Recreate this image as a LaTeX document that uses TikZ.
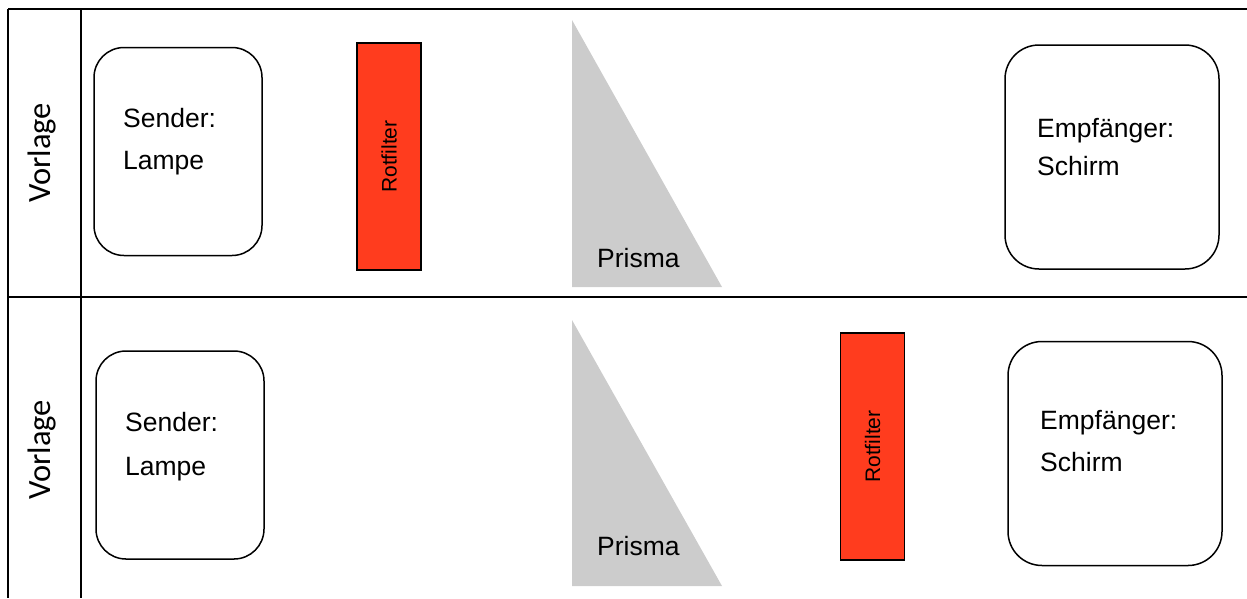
\documentclass[tikz,border=0pt]{standalone}
\usepackage{fontspec}
\setmainfont{Liberation Sans}
\newfontfamily\vorlagefont{Carlito}
\definecolor{rotfill}{RGB}{255,60,30}
\definecolor{prismgray}{RGB}{204,204,204}

\begin{document}
\begin{tikzpicture}[x=1pt,y=-1pt,
  box/.style={draw,line width=1.5pt,rounded corners=30pt,minimum width=168pt,minimum height=208pt,inner sep=0pt},
  bigbox/.style={box,rounded corners=34pt,minimum width=214pt,minimum height=224pt},
  filter/.style={draw,line width=1.5pt,fill=rotfill,minimum width=64pt,minimum height=227pt,inner sep=0pt},
  lbl/.style={anchor=base west,inner sep=0pt,font=\fontsize{26.5}{30}\selectfont},
  vlbl/.style={rotate=90,inner sep=0pt,font=\vorlagefont\fontsize{32.5}{36}\selectfont}]
\def\rowTop{9}
\def\rowMid{297}
\def\rowEnd{598}
\useasboundingbox (0,0) rectangle (1247,598);
% table lines
\draw[line width=2pt] (8,\rowTop) -- (1247,\rowTop);
\draw[line width=2pt] (8,\rowMid) -- (1247,\rowMid);
\draw[line width=2pt] (8,\rowTop) -- (8,\rowEnd);
\draw[line width=2pt] (81,\rowTop) -- (81,\rowEnd);
% prisms
\fill[prismgray] (572,20) -- (722,287) -- (572,287) -- cycle;
\fill[prismgray] (572,320) -- (722,586) -- (572,586) -- cycle;
\path
(42,153) node [vlbl] (vorlage1) {Vorlage}
(42,450) node [vlbl] (vorlage2) {Vorlage}
(178,151.5) node [box] (sender1) {}
(180,455) node [box] (sender2) {}
(1112,157) node [bigbox] (empf1) {}
(1115,453.5) node [bigbox] (empf2) {}
(389,156.5) node [filter] (filter1) {}
(872.5,446.5) node [filter] (filter2) {}
;
\path
(filter1.center) node [rotate=90,font=\fontsize{21}{24}\selectfont] (rot1) {Rotfilter}
(filter2.center) node [rotate=90,font=\fontsize{21}{24}\selectfont] (rot2) {Rotfilter}
(123,127) node [lbl] (send1) {Sender:}
(123,169.5) node [lbl] (lampe1) {Lampe}
(125,431.5) node [lbl] (send2) {Sender:}
(125,475.5) node [lbl] (lampe2) {Lampe}
(1037,137) node [lbl] (emp1) {Empfänger:}
(1037,175.5) node [lbl] (schirm1) {Schirm}
(1040,429.5) node [lbl] (emp2) {Empfänger:}
(1040,471.5) node [lbl] (schirm2) {Schirm}
(597,267.5) node [lbl] (prisma1) {Prisma}
(597,555.5) node [lbl] (prisma2) {Prisma}
;
\end{tikzpicture}
\end{document}
